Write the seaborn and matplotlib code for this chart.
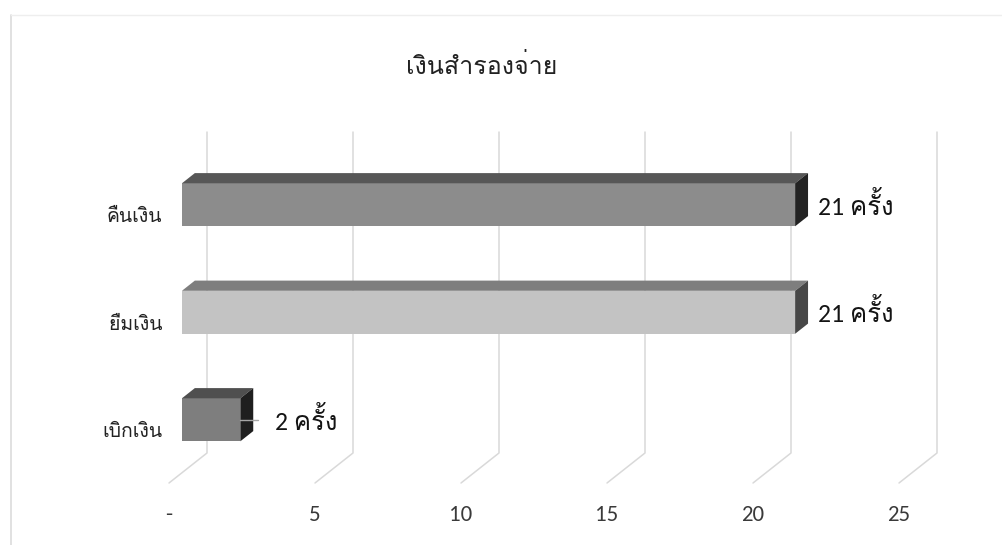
import matplotlib
matplotlib.use("Agg")
import matplotlib.pyplot as plt
import matplotlib.transforms as mtransforms
from matplotlib.patches import Polygon
from matplotlib import font_manager, ft2font
import seaborn as sns
import pandas as pd

# ---------------- data ----------------
categories = ["คืนเงิน", "ยืมเงิน", "เบิกเงิน"]
values = [21, 21, 2]
value_labels = ["21 ครั้ง", "21 ครั้ง", "2 ครั้ง"]
title = "เงินสำรองจ่าย"
xticks = [0, 5, 10, 15, 20, 25]
xtick_labels = ["-", "5", "10", "15", "20", "25"]

front_colors = ["#8c8c8c", "#c3c3c3", "#7e7e7e"]
top_colors = ["#575757", "#7e7e7e", "#4f4f4f"]
side_colors = ["#232323", "#474747", "#1f1f1f"]

# ---------------- fonts ----------------
def find_thai_fonts():
    names = []
    for f in font_manager.fontManager.ttflist:
        try:
            cm = ft2font.FT2Font(f.fname).get_charmap()
        except Exception:
            continue
        if 0x0E07 in cm and 0x0E34 in cm and f.name not in names:
            names.append(f.name)
    return names

thai_fonts = find_thai_fonts()
all_names = set(f.name for f in font_manager.fontManager.ttflist)
sns.set_theme(style="white")
thai = "Loma" if "Loma" in thai_fonts else (thai_fonts[0] if thai_fonts else "DejaVu Sans")
latin = "Carlito" if "Carlito" in all_names else "Open Sans"
plt.rcParams["font.family"] = [thai, "DejaVu Sans"]
num_family = [latin, thai, "DejaVu Sans"]

# ---------------- geometry (layout) ----------------
W, H, DPI = 1002, 545, 100
px_per_unit = 29.2
cat_px = 107.5
depth_dx = 38 / px_per_unit      # full depth offset in value units
depth_dy = -30 / cat_px          # full depth offset in category units
d0, d1 = 0.34, 0.68              # bar depth range
bar_h = 0.40

fig = plt.figure(figsize=(W / DPI, H / DPI), dpi=DPI)
ax_left_px, ax_bottom_px = 169, 483
xmax = 28.0
ymin_c, ymax_c = -1.0, (483 - 215) / cat_px
ax = fig.add_axes([ax_left_px / W, (H - ax_bottom_px) / H,
                   xmax * px_per_unit / W,
                   (ymax_c - ymin_c) * cat_px / H])

df = pd.DataFrame({"cat": categories, "val": values})
sns.barplot(data=df, x="val", y="cat", hue="cat", palette=front_colors,
            orient="h", width=bar_h, legend=False, ax=ax, saturation=1,
            linewidth=0, zorder=3)

ax.set_xlim(0, xmax)
ax.set_ylim(ymax_c, ymin_c)

shift = mtransforms.Affine2D().translate(d0 * depth_dx, d0 * depth_dy) + ax.transData
for p in ax.patches:
    p.set_transform(shift)
    p.set_clip_on(False)

dd = d1 - d0
for i, v in enumerate(values):
    x0 = d0 * depth_dx
    yc = i + d0 * depth_dy
    yt, yb = yc - bar_h / 2, yc + bar_h / 2
    ox, oy = dd * depth_dx, dd * depth_dy
    ax.add_patch(Polygon([(x0, yt), (x0 + v, yt), (x0 + v + ox, yt + oy), (x0 + ox, yt + oy)],
                         closed=True, facecolor=top_colors[i], edgecolor="none", zorder=3,
                         clip_on=False))
    ax.add_patch(Polygon([(x0 + v, yt), (x0 + v, yb), (x0 + v + ox, yb + oy), (x0 + v + ox, yt + oy)],
                         closed=True, facecolor=side_colors[i], edgecolor="none", zorder=3,
                         clip_on=False))
    if v < 5:
        ax.plot([x0 + v, x0 + v + 0.62], [yc, yc], color="#a6a6a6", lw=1, zorder=4,
                clip_on=False)
        lx = x0 + v + 1.20
    else:
        lx = x0 + v + ox + 0.33
    ax.text(lx, yc, value_labels[i], ha="left", va="center", fontsize=18.5,
            color="#141414", zorder=5, family=num_family)

wall_top = (132 - 215) / cat_px
for t in xticks:
    ax.plot([t + depth_dx, t + depth_dx, t], [wall_top, ymax_c + depth_dy, ymax_c],
            color="#d9d9d9", lw=1.1, zorder=1, clip_on=False)

ax.set_xticks(xticks)
ax.set_xticklabels(xtick_labels, fontsize=16.5, color="#3a3a3a", family=num_family)
ax.tick_params(axis="x", length=0, pad=16)
ax.tick_params(axis="y", length=0, pad=5, labelsize=14, labelcolor="#222222")
ax.set_xlabel("")
ax.set_ylabel("")
for s in ax.spines.values():
    s.set_visible(False)
ax.patch.set_alpha(0)

fig.text(482 / W, 1 - 66 / H, title, ha="center", va="center", fontsize=18,
         color="#222222")

fig.add_artist(plt.Line2D([11 / W, 11 / W], [0, 1 - 15 / H], color="#dcdcdc", lw=1.2))
fig.add_artist(plt.Line2D([11 / W, 1], [1 - 15 / H, 1 - 15 / H], color="#eeeeee", lw=1))

fig.savefig("out.png", dpi=DPI, facecolor="white")
